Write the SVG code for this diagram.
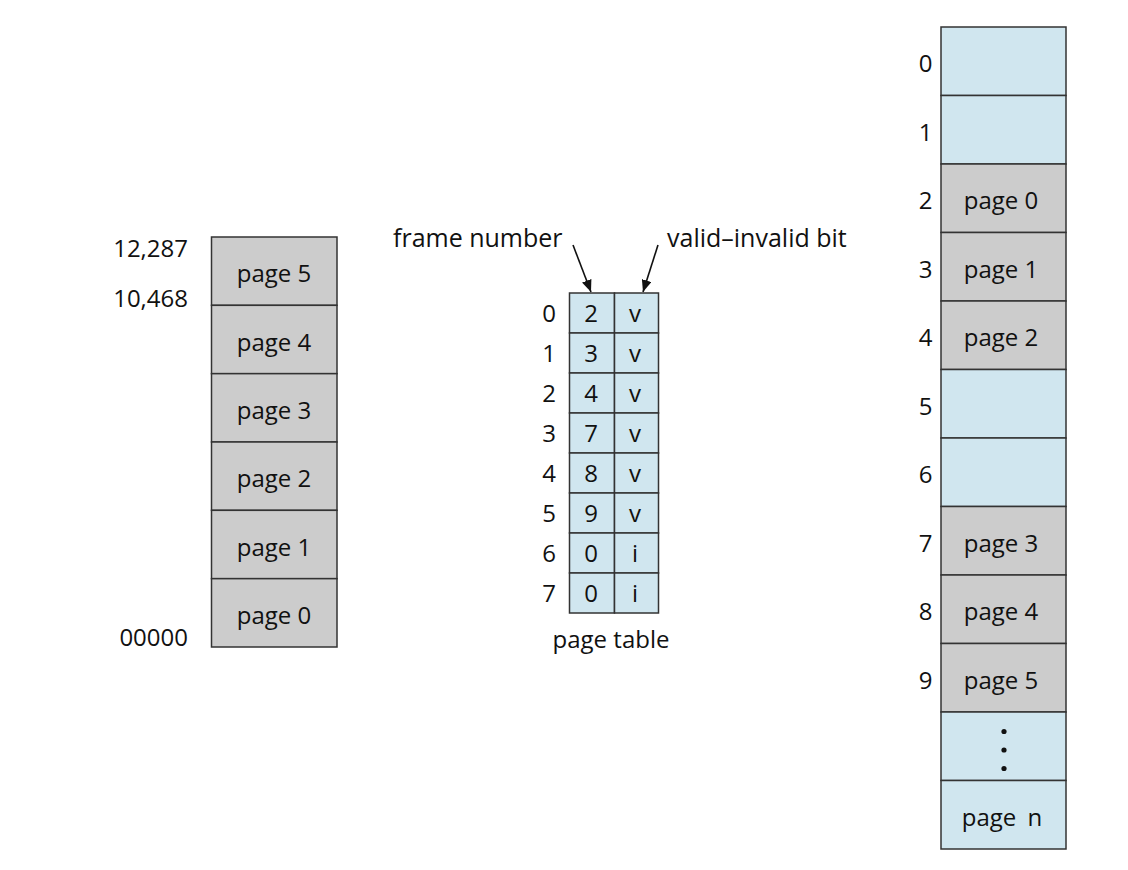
<svg xmlns="http://www.w3.org/2000/svg" width="1128" height="870" viewBox="0 0 1128 870">
  <style>
    text { font-family: "Open Sans", "Liberation Sans", sans-serif; font-size: 24px; fill: #111; }
    .c { text-anchor: middle; }
    .e { text-anchor: end; }
    .lbl { font-size: 25px; }
    .blue { fill: #d0e6ef; stroke: #333333; stroke-width: 1.5; }
    .gray { fill: #cccccc; stroke: #333333; stroke-width: 1.5; }
    .arrow { stroke: #111; stroke-width: 1.6; fill: none; marker-end: url(#ah); }
  </style>
  <defs>
    <marker id="ah" viewBox="0 0 12 10" refX="12" refY="5" markerWidth="12" markerHeight="10" markerUnits="userSpaceOnUse" orient="auto">
      <path d="M0,0 L12,5 L0,10 Z" fill="#111"/>
    </marker>
  </defs>
  <rect width="1128" height="870" fill="#ffffff"/>

  <!-- Logical memory -->
  <g id="logical-memory">
    <rect class="gray" x="211.5" y="237" width="125.5" height="68.33"/>
    <rect class="gray" x="211.5" y="305.33" width="125.5" height="68.33"/>
    <rect class="gray" x="211.5" y="373.67" width="125.5" height="68.33"/>
    <rect class="gray" x="211.5" y="442" width="125.5" height="68.33"/>
    <rect class="gray" x="211.5" y="510.33" width="125.5" height="68.33"/>
    <rect class="gray" x="211.5" y="578.67" width="125.5" height="68.33"/>
    <text class="c" x="274" y="282">page 5</text>
    <text class="c" x="274" y="350.5">page 4</text>
    <text class="c" x="274" y="419">page 3</text>
    <text class="c" x="274" y="487">page 2</text>
    <text class="c" x="274" y="555.5">page 1</text>
    <text class="c" x="274" y="624">page 0</text>
    <text class="e" x="188" y="257">12,287</text>
    <text class="e" x="188" y="307">10,468</text>
    <text class="e" x="188" y="646">00000</text>
  </g>

  <!-- Page table -->
  <g id="page-table">
    <rect class="blue" x="569.5" y="293" width="45" height="40"/><rect class="blue" x="614.5" y="293" width="44" height="40"/>
    <rect class="blue" x="569.5" y="333" width="45" height="40"/><rect class="blue" x="614.5" y="333" width="44" height="40"/>
    <rect class="blue" x="569.5" y="373" width="45" height="40"/><rect class="blue" x="614.5" y="373" width="44" height="40"/>
    <rect class="blue" x="569.5" y="413" width="45" height="40"/><rect class="blue" x="614.5" y="413" width="44" height="40"/>
    <rect class="blue" x="569.5" y="453" width="45" height="40"/><rect class="blue" x="614.5" y="453" width="44" height="40"/>
    <rect class="blue" x="569.5" y="493" width="45" height="40"/><rect class="blue" x="614.5" y="493" width="44" height="40"/>
    <rect class="blue" x="569.5" y="533" width="45" height="40"/><rect class="blue" x="614.5" y="533" width="44" height="40"/>
    <rect class="blue" x="569.5" y="573" width="45" height="40"/><rect class="blue" x="614.5" y="573" width="44" height="40"/>
    <text class="c" x="591" y="322">2</text><text class="c" x="635" y="322">v</text><text class="c" x="549" y="322">0</text>
    <text class="c" x="591" y="362">3</text><text class="c" x="635" y="362">v</text><text class="c" x="549" y="362">1</text>
    <text class="c" x="591" y="402">4</text><text class="c" x="635" y="402">v</text><text class="c" x="549" y="402">2</text>
    <text class="c" x="591" y="442">7</text><text class="c" x="635" y="442">v</text><text class="c" x="549" y="442">3</text>
    <text class="c" x="591" y="482">8</text><text class="c" x="635" y="482">v</text><text class="c" x="549" y="482">4</text>
    <text class="c" x="591" y="522">9</text><text class="c" x="635" y="522">v</text><text class="c" x="549" y="522">5</text>
    <text class="c" x="591" y="562">0</text><text class="c" x="635" y="562">i</text><text class="c" x="549" y="562">6</text>
    <text class="c" x="591" y="602">0</text><text class="c" x="635" y="602">i</text><text class="c" x="549" y="602">7</text>
    <text class="c" x="611" y="648">page table</text>
    <text class="lbl" x="393" y="247">frame number</text>
    <text class="lbl" x="667" y="247">valid–invalid bit</text>
  </g>

  <!-- Physical memory -->
  <g id="physical-memory">
    <rect class="blue" x="941" y="27" width="125" height="68.5"/>
    <rect class="blue" x="941" y="95.5" width="125" height="68.5"/>
    <rect class="gray" x="941" y="164" width="125" height="68.5"/>
    <rect class="gray" x="941" y="232.5" width="125" height="68.5"/>
    <rect class="gray" x="941" y="301" width="125" height="68.5"/>
    <rect class="blue" x="941" y="369.5" width="125" height="68.5"/>
    <rect class="blue" x="941" y="438" width="125" height="68.5"/>
    <rect class="gray" x="941" y="506.5" width="125" height="68.5"/>
    <rect class="gray" x="941" y="575" width="125" height="68.5"/>
    <rect class="gray" x="941" y="643.5" width="125" height="68.5"/>
    <rect class="blue" x="941" y="712" width="125" height="68.5"/>
    <rect class="blue" x="941" y="780.5" width="125" height="68.5"/>
    <text class="c" x="1001" y="209">page 0</text>
    <text class="c" x="1001" y="278">page 1</text>
    <text class="c" x="1001" y="346">page 2</text>
    <text class="c" x="1001" y="552">page 3</text>
    <text class="c" x="1001" y="620">page 4</text>
    <text class="c" x="1001" y="689">page 5</text>
    <text class="c" x="1002" y="826" word-spacing="5">page n</text>
    <circle cx="1004" cy="731.5" r="2.6" fill="#111"/>
    <circle cx="1004" cy="750" r="2.6" fill="#111"/>
    <circle cx="1004" cy="768.5" r="2.6" fill="#111"/>
    <text class="c" x="925.5" y="72">0</text>
    <text class="c" x="925.5" y="141">1</text>
    <text class="c" x="925.5" y="209">2</text>
    <text class="c" x="925.5" y="278">3</text>
    <text class="c" x="925.5" y="346">4</text>
    <text class="c" x="925.5" y="415">5</text>
    <text class="c" x="925.5" y="483">6</text>
    <text class="c" x="925.5" y="552">7</text>
    <text class="c" x="925.5" y="620">8</text>
    <text class="c" x="925.5" y="689">9</text>
  </g>

  <!-- Connectors -->
  <g id="connectors">
    <line class="arrow" x1="573" y1="245" x2="591" y2="292"/>
    <line class="arrow" x1="658" y1="245" x2="643" y2="292"/>
  </g>
</svg>
